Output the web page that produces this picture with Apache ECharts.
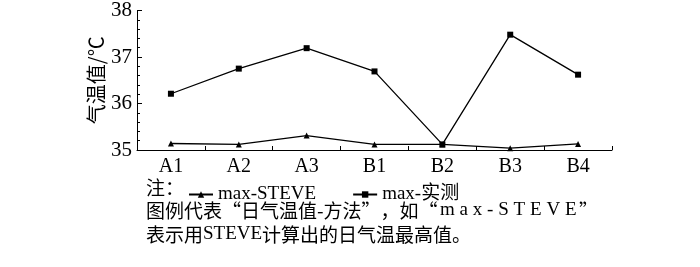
<!DOCTYPE html>
<html><head><meta charset="utf-8">
<script src="https://cdn.jsdelivr.net/npm/echarts@6/dist/echarts.min.js"></script>
<style>html,body{margin:0;padding:0;background:#fff}#c{width:700px;height:267px}</style>
</head><body><div id="c"></div>
<script>
const categories = ['A1','A2','A3','B1','B2','B3','B4'];
const steveValues = [35.14, 35.12, 35.31, 35.12, 35.12, 35.04, 35.13];
const measuredValues = [36.21, 36.75, 37.19, 36.69, 35.12, 37.48, 36.62];
const seriesNames = ['max-STEVE', 'max-实测'];
const yAxisName = '气温值/℃';
const noteLabel = '注：';
const noteLine2 = '图例代表“日气温值-方法”，如“max-STEVE”';
const noteLine3 = '表示用STEVE计算出的日气温最高值。';

const SERIF = '"Liberation Serif", "Noto Sans CJK SC", serif';
const CJK = '"Noto Sans CJK SC", "Liberation Serif", sans-serif';

// Rich-text markup: CJK runs in CJK font, Latin runs in serif;
// when spread is true, Latin letters are letter-spaced (justified line).
function richMarkup(str, spread) {
  const runs = str.match(/[A-Za-z][A-Za-z0-9\-]*|[^A-Za-z]+/g) || [];
  return runs.map(r => {
    if (/^[A-Za-z]/.test(r)) {
      if (spread) return r.split('').map(ch => '{s|' + ch + '}').join('');
      return '{l|' + r + '}';
    }
    return '{c|' + r + '}';
  }).join('');
}
const richStyles = {
  c: { fontFamily: CJK, fontSize: 19, color: '#000' },
  l: { fontFamily: SERIF, fontSize: 19, color: '#000' },
  s: { fontFamily: SERIF, fontSize: 19, color: '#000', padding: [0, 2.4, 0, 2.4] }
};

const chart = echarts.init(document.getElementById('c'));
chart.setOption({
  animation: false,
  backgroundColor: '#fff',
  grid: { left: 137, right: 88, top: 5, bottom: 117 },
  xAxis: {
    type: 'category', data: categories, boundaryGap: true,
    axisLine: { lineStyle: { color: '#000', width: 1 } },
    axisTick: { show: true, inside: true, length: 4, lineStyle: { color: '#000', width: 1 } },
    axisLabel: { color: '#000', fontFamily: SERIF, fontSize: 20, margin: 7 }
  },
  yAxis: [{
    type: 'value', min: 35, max: 38, interval: 1,
    name: yAxisName, nameLocation: 'middle', nameGap: 31, nameRotate: 90,
    nameMoveOverlap: false,
    nameTextStyle: { color: '#000', fontFamily: CJK, fontSize: 20 },
    axisLine: { show: true, lineStyle: { color: '#000', width: 1 } },
    axisTick: { show: true, inside: true, length: 5, lineStyle: { color: '#000', width: 1 } },
    splitLine: { show: false },
    axisLabel: { color: '#000', fontFamily: SERIF, fontSize: 21, margin: 5 }
  }, {
    type: 'value', min: 35, max: 38, interval: 0.2, position: 'left', offset: 0,
    axisLine: { show: false },
    axisTick: { show: true, inside: true, length: 3, lineStyle: { color: '#000', width: 1 } },
    axisLabel: { show: false },
    splitLine: { show: false }
  }],
  legend: {
    left: 183, top: 180, itemGap: 36, itemWidth: 24, itemHeight: 8,
    textStyle: { color: '#000', fontFamily: SERIF, fontSize: 19 },
    data: seriesNames
  },
  series: [
    { name: seriesNames[0], type: 'line', data: steveValues, symbol: 'triangle', symbolSize: 6,
      itemStyle: { color: '#000' }, lineStyle: { color: '#000', width: 1.3 } },
    { name: seriesNames[1], type: 'line', data: measuredValues, symbol: 'rect', symbolSize: 6,
      itemStyle: { color: '#000' }, lineStyle: { color: '#000', width: 1.3 } }
  ],
  graphic: [
    { type: 'text', left: 146, top: 178, style: { text: noteLabel, font: '19px ' + CJK, fill: '#000' } },
    { type: 'text', left: 146, top: 201, style: { text: richMarkup(noteLine2, true), rich: richStyles, fill: '#000' } },
    { type: 'text', left: 146, top: 225, style: { text: richMarkup(noteLine3, false), rich: richStyles, fill: '#000' } }
  ]
});
</script></body></html>
